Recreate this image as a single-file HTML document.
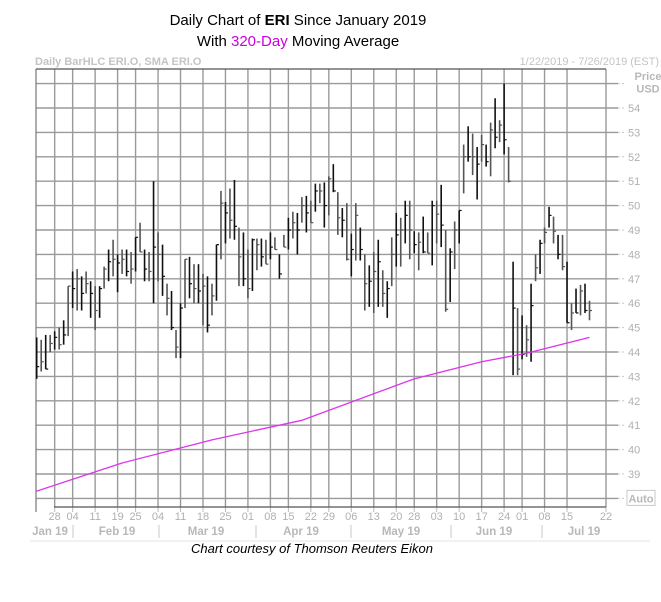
<!DOCTYPE html>
<html><head><meta charset="utf-8"><style>
body{margin:0;background:#fff;width:661px;height:597px;overflow:hidden;font-family:"Liberation Sans",sans-serif}
</style></head><body>
<svg id="chart" width="661" height="597" xmlns="http://www.w3.org/2000/svg" font-family="Liberation Sans, sans-serif">
<text x="298" y="25" font-size="15" text-anchor="middle" fill="#000">Daily Chart of <tspan font-weight="bold">ERI</tspan> Since January 2019</text>
<text x="298" y="46" font-size="15" text-anchor="middle" fill="#000">With <tspan fill="#cc00dd">320-Day</tspan> Moving Average</text>
<text x="35" y="65" font-size="11" font-weight="bold" fill="#c4c4c4">Daily BarHLC ERI.O, SMA ERI.O</text>
<text x="659" y="65" font-size="11" text-anchor="end" fill="#c4c4c4">1/22/2019 - 7/26/2019 (EST)</text>
<text x="648" y="80" font-size="11" font-weight="bold" text-anchor="middle" fill="#b8b8b8">Price</text>
<g id="grid"></g>
<g id="axes"></g>
<g id="bars"></g>
<g id="sma"></g>
<text x="312" y="553" font-size="13" font-style="italic" text-anchor="middle" fill="#000">Chart courtesy of Thomson Reuters Eikon</text>
</svg>
<script>
const highs=[44.6,44.5,44.7,44.7,44.85,45.0,45.3,46.7,47.3,47.4,47.1,47.3,46.9,46.7,46.7,47.5,48.2,48.6,48.0,48.2,48.2,48.1,48.7,49.3,48.2,48.1,51.0,48.9,48.4,46.8,46.5,44.9,46.0,47.8,47.9,47.6,47.6,47.2,47.1,46.8,48.4,
50.6,50.15,50.7,51.05,49.1,48.9,48.2,48.65,48.65,48.65,48.6,48.9,48.7,48.0,48.8,49.5,49.75,49.7,50.35,50.4,50.2,50.9,50.9,50.95,51.2,51.7,50.55,49.9,50.1,48.85,50.1,49.1,48.0,47.55,48.1,48.6,47.35,46.9,48.7,49.7,49.5,50.2,
50.2,48.95,48.9,49.55,48.9,50.2,50.2,50.85,49.0,48.25,49.35,49.8,52.5,53.25,52.95,52.4,52.9,52.5,53.4,54.4,53.5,55.0,52.4,47.7,45.8,45.5,45.1,46.8,48.0,48.6,49.1,49.95,49.55,48.8,48.8,47.7,46.0,46.6,46.75,46.8,46.1];
const lows=[42.9,43.2,43.3,44.0,44.1,44.1,44.3,44.65,45.8,45.7,45.7,46.4,45.4,44.9,45.4,46.6,46.9,47.1,46.45,47.2,47.1,46.8,47.3,48.1,46.9,46.9,46.0,46.9,46.3,45.5,44.9,43.75,43.75,45.8,46.2,46.0,46.0,45.1,44.8,45.5,46.1,
47.8,48.45,48.65,48.6,46.7,46.7,46.2,46.5,47.35,47.5,47.6,47.8,48.2,47.0,48.3,48.2,48.65,48.0,49.3,48.9,49.3,49.75,50.1,49.1,49.6,50.55,48.8,48.7,47.75,47.1,47.75,47.75,45.7,45.85,45.6,45.85,45.85,45.4,46.7,47.5,47.5,48.45,
47.8,48.05,47.35,48.05,48.05,47.55,48.45,48.3,45.65,46.05,47.4,48.45,50.5,51.8,51.25,50.25,51.8,51.6,51.2,52.35,52.6,52.1,50.95,43.05,43.05,43.7,43.8,43.6,46.9,47.2,48.45,49.1,48.45,47.8,47.35,45.2,44.9,45.6,45.5,45.6,45.3];
const closes=[43.4,43.6,43.3,44.35,44.6,44.3,44.7,46.7,46.6,47.0,46.4,46.8,46.4,45.7,46.6,47.4,47.7,47.8,47.65,47.8,47.3,47.4,48.7,48.1,47.4,47.3,48.3,48.0,47.1,46.2,45.0,44.2,45.8,47.8,46.8,46.6,46.5,46.7,45.1,46.3,48.4,
50.1,49.7,49.4,49.15,47.9,47.0,46.6,48.6,48.4,47.9,47.6,48.3,48.2,47.2,48.3,49.0,49.3,49.0,50.0,49.7,49.3,50.6,50.6,50.0,51.1,50.6,49.5,49.4,47.8,48.2,49.6,48.2,46.8,46.9,47.3,47.7,46.4,46.6,48.0,48.8,49.0,49.6,
49.0,48.4,48.5,48.1,48.05,50.0,49.65,49.2,45.75,48.1,49.0,49.8,52.0,52.0,52.0,51.7,52.5,51.8,53.1,52.8,53.3,52.7,51.0,45.8,43.3,43.9,44.5,45.9,47.45,48.45,48.9,49.6,48.95,48.0,47.5,45.2,45.6,45.6,46.5,45.7,45.7];
const smaIdx=[0,19,39,59,84,99,109,123];
const smaVals=[38.3,39.45,40.4,41.2,42.9,43.6,43.95,44.6];
const priceTicks=[54,53,52,51,50,49,48,47,46,45,44,43,42,41,40,39];
const dayLabels=["28","04","11","19","25","04","11","18","25","01","08","15","22","29","06","13","20","28","03","10","17","24","01","08","15","22"];
const dayIdx=[4,8,13,18,22,27,32,37,42,47,52,56,61,65,70,75,80,84,89,94,99,104,108,113,118,123];
const months=["Jan 19","Feb 19","Mar 19","Apr 19","May 19","Jun 19","Jul 19"];
const monthPos=[50,117,206,301,401,494,584];
const monthSeps=[73,159,256,351,451,542];

const NS="http://www.w3.org/2000/svg";
const N=highs.length;
const X0=36.7,X1=589.5;
function xs(i){return X0+(X1-X0)*i/(N-1);}
function ys(p){return 108+(54-p)*24.4;}
function mk(tag,attrs,parent){const e=document.createElementNS(NS,tag);for(const k in attrs)e.setAttribute(k,attrs[k]);parent.appendChild(e);return e;}
const grid=document.getElementById('grid'),axes=document.getElementById('axes'),bars=document.getElementById('bars'),smaG=document.getElementById('sma');
const hLevels=[55].concat(priceTicks).concat([38]);
hLevels.forEach(p=>{const y=ys(p);
 const l=mk('line',{x1:36,x2:618,y1:y,y2:y,stroke:'#9a9a9a','stroke-width':1.4},grid);
 
 
 mk('line',{x1:618,x2:626,y1:y,y2:y,stroke:'#c8c8c8','stroke-width':1,'stroke-dasharray':'2,2'},grid);
});
priceTicks.forEach(p=>{const t=mk('text',{x:628,y:ys(p)+4,'font-size':11,fill:'#b0b0b0'},axes);t.textContent=p;
 
 });
{const t=mk('text',{x:648,y:ys(55)+9,'font-size':11,'font-weight':'bold','text-anchor':'middle',fill:'#b8b8b8'},axes);t.textContent='USD';
 
 }
{const r=mk('rect',{x:627,y:ys(38)-8,width:28,height:15,fill:'none',stroke:'#c8c8c8'},axes);
 
 
 const t=mk('text',{x:641,y:ys(38)+4,'font-size':11,'font-weight':'bold','text-anchor':'middle',fill:'#b8b8b8'},axes);t.textContent='Auto';
 
 }
dayIdx.forEach((d,k)=>{const x=(k==dayIdx.length-1)?606:xs(d);
 const l=mk('line',{x1:x,x2:x,y1:69,y2:507,stroke:'#9a9a9a','stroke-width':1.4},grid);
 
 
 mk('line',{x1:x,x2:x,y1:507,y2:512,stroke:'#bbb'},grid);
 const t=mk('text',{x:x,y:520,'font-size':11,'text-anchor':'middle',fill:'#b0b0b0'},axes);t.textContent=dayLabels[k];
 
 
});
mk('line',{x1:36,x2:36,y1:69,y2:512,stroke:'#777','stroke-width':1.2},axes);
mk('line',{x1:36,x2:606,y1:69,y2:69,stroke:'#555','stroke-width':1.2},axes);
mk('line',{x1:54,x2:606,y1:507,y2:507,stroke:'#555','stroke-width':1.2},axes);
months.forEach((m,k)=>{const t=mk('text',{x:monthPos[k],y:535,'font-size':11.5,'font-weight':'bold','text-anchor':'middle',fill:'#b8b8b8'},axes);t.textContent=m;
 
 });
monthSeps.forEach(x=>mk('line',{x1:x,x2:x,y1:525,y2:538,stroke:'#c8c8c8'},axes));
mk('line',{x1:30,x2:650,y1:541,y2:541,stroke:'#e4e4e4'},axes);
for(let i=0;i<N;i++){const x=xs(i);
 const g=mk('g',{},bars);
 
 
 const c=i%2?'#555':'#111';
 mk('line',{x1:x,x2:x,y1:ys(highs[i]),y2:ys(lows[i]),stroke:c,'stroke-width':1.6},g);
 mk('line',{x1:x,x2:x+2.5,y1:ys(closes[i]),y2:ys(closes[i]),stroke:c,'stroke-width':1.2},g);
}
const pts=smaIdx.map((d,k)=>xs(d)+','+ys(smaVals[k])).join(' ');
const pl=mk('polyline',{points:(X0-1)+','+ys(smaVals[0])+' '+pts,fill:'none',stroke:'#dd33ee','stroke-width':1.3},smaG);


</script>
</body></html>
